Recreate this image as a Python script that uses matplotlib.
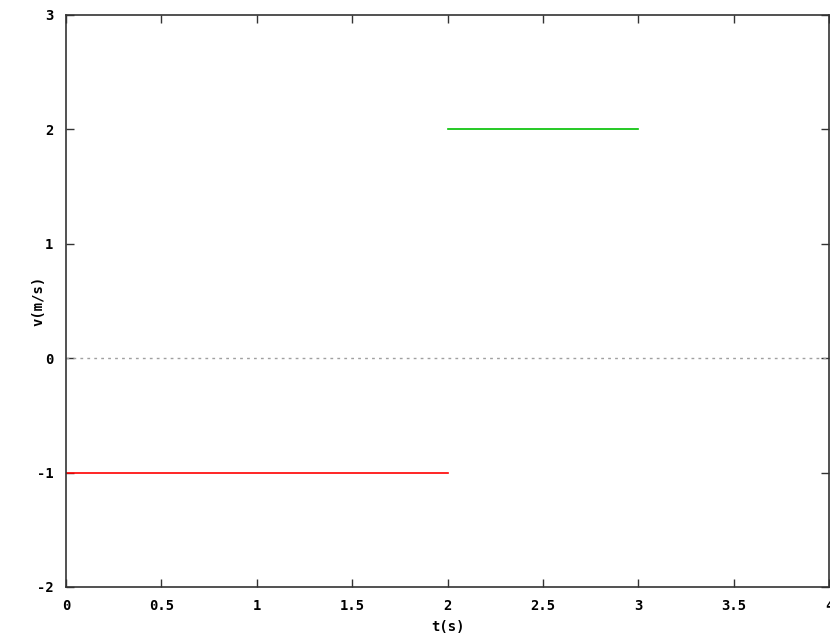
import matplotlib
matplotlib.use("Agg")
import matplotlib.pyplot as plt

# segmentos de velocidad (t inicio, t fin, v)
t_rojo = [0, 2]
v_rojo = [-1, -1]
t_verde = [2, 3]
v_verde = [2, 2]

x_ticks = [0, 0.5, 1, 1.5, 2, 2.5, 3, 3.5, 4]
x_labels = ["0", "0.5", "1", "1.5", "2", "2.5", "3", "3.5", "4"]
y_ticks = [-2, -1, 0, 1, 2, 3]

plt.rcParams['font.family'] = 'DejaVu Sans Mono'
plt.rcParams['font.weight'] = 'bold'
plt.rcParams['axes.unicode_minus'] = False

fig = plt.figure(figsize=(8.3, 6.34), dpi=100)
ax = fig.add_axes([66/830, 47/634, 763/830, 572/634])

ax.axhline(0, color='#a0a0a0', linestyle=(0, (2, 3)), linewidth=1)
ax.plot(t_rojo, v_rojo, color='#ff0000', linewidth=1.2)
ax.plot(t_verde, v_verde, color='#00c000', linewidth=1.2)

ax.set_xlim(0, 4)
ax.set_ylim(-2, 3)
ax.set_xticks(x_ticks)
ax.set_xticklabels(x_labels)
ax.set_yticks(y_ticks)
ax.tick_params(direction='in', length=6, width=1, top=True, right=True,
               labelsize=10, pad=9, color='#333333')
for s in ax.spines.values():
    s.set_color('#333333')
    s.set_linewidth(1.2)

ax.set_xlabel('t(s)', fontsize=10, fontweight='bold', labelpad=5)
ax.set_ylabel('v(m/s)', fontsize=10, fontweight='bold', labelpad=-6)

fig.savefig('out.png', dpi=100)
